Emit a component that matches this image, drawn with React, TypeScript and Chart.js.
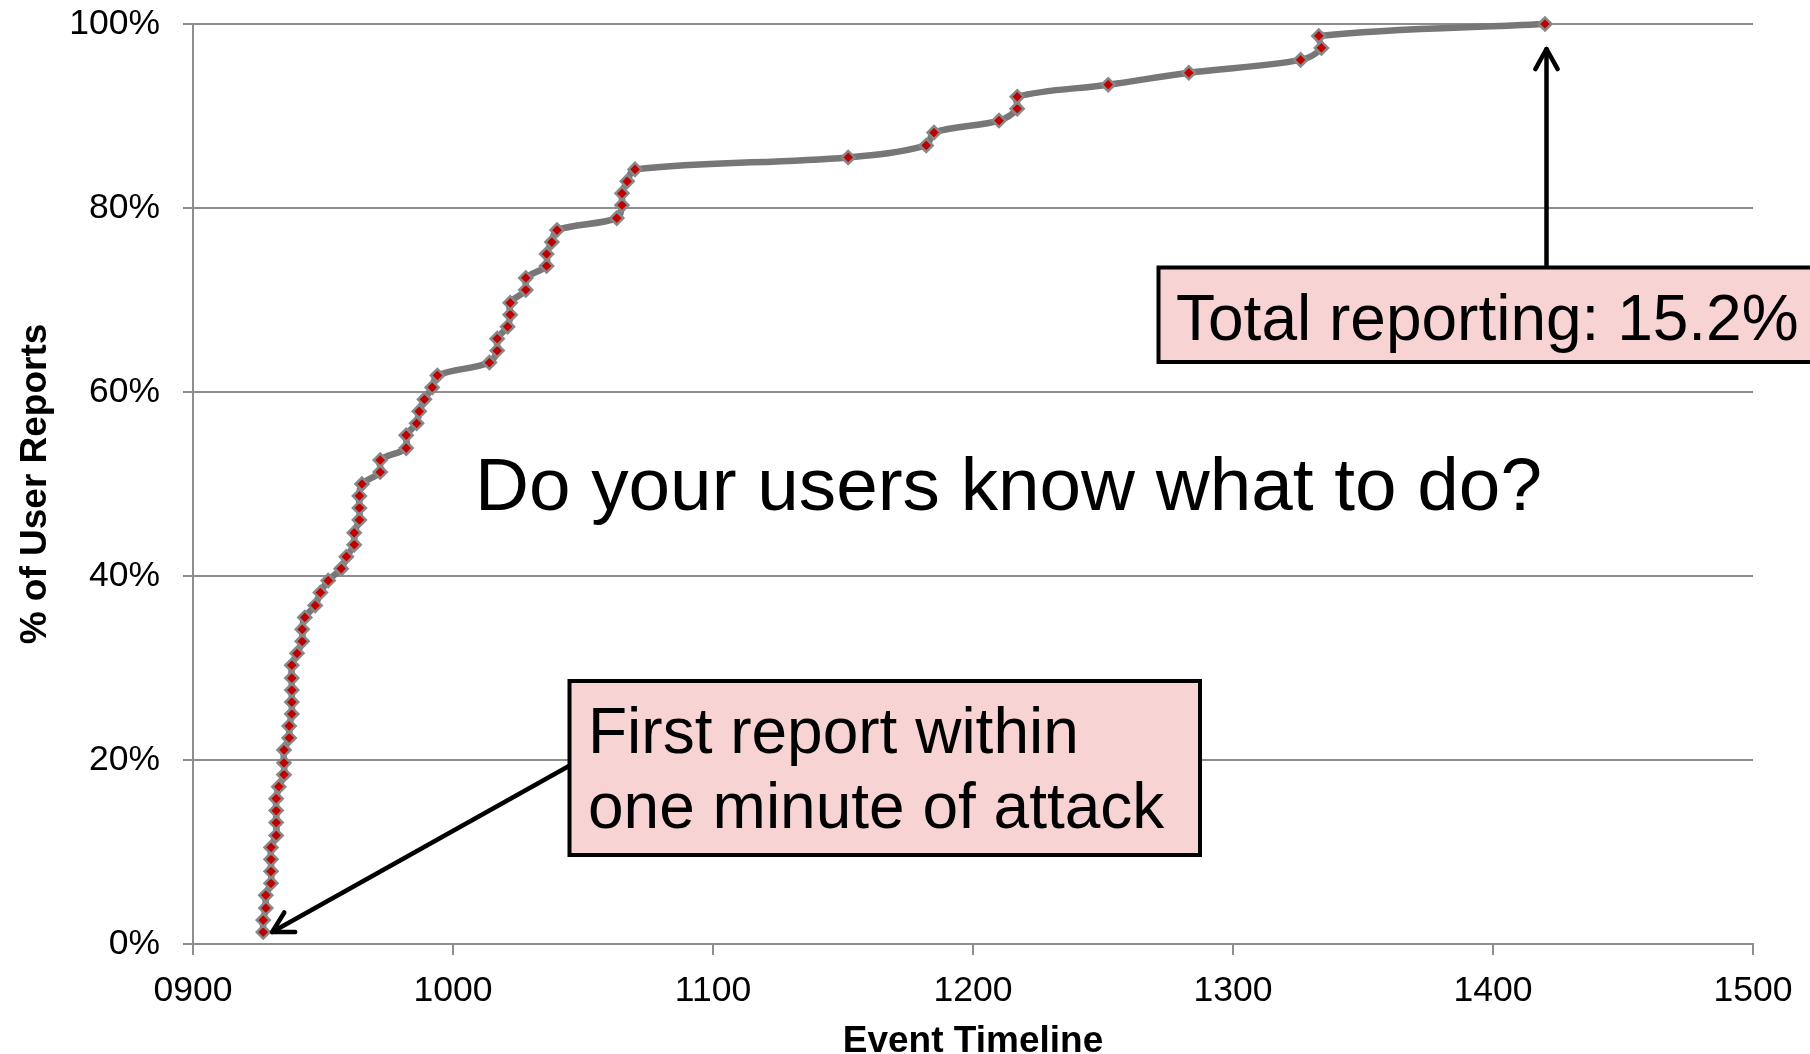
import { useEffect, useRef } from 'react';
import { Chart, registerables } from 'chart.js';

Chart.register(...registerables);

// Event time (HHMM) of each user report
const reportTimes = [
  927, 927, 928, 928, 930, 930, 930, 930, 932, 932,
  932, 932, 933, 935, 935, 935, 937, 937, 938, 938,
  938, 938, 938, 940, 942, 942, 943, 947, 949, 952,
  957, 959, 962, 962, 964, 964, 964, 965, 972, 972,
  982, 982, 986, 987, 989, 992, 994, 1014, 1017, 1017,
  1021, 1022, 1022, 1028, 1028, 1036, 1036, 1038, 1040, 1063,
  1065, 1065, 1067, 1070, 1152, 1182, 1185, 1210, 1217, 1217,
  1252, 1283, 1326, 1334, 1333, 1420,
];

// Cumulative % of user reports
const reportPercent = [
  1.3, 2.6, 3.9, 5.3, 6.6, 7.9, 9.2, 10.5, 11.8, 13.2,
  14.5, 15.8, 17.1, 18.4, 19.7, 21.1, 22.4, 23.7, 25.0, 26.3,
  27.6, 28.9, 30.3, 31.6, 32.9, 34.2, 35.5, 36.8, 38.2, 39.5,
  40.8, 42.1, 43.4, 44.7, 46.1, 47.4, 48.7, 50.0, 51.3, 52.6,
  53.9, 55.3, 56.6, 57.9, 59.2, 60.5, 61.8, 63.2, 64.5, 65.8,
  67.1, 68.4, 69.7, 71.1, 72.4, 73.7, 75.0, 76.3, 77.6, 78.9,
  80.3, 81.6, 82.9, 84.2, 85.5, 86.8, 88.2, 89.5, 90.8, 92.1,
  93.4, 94.7, 96.1, 97.4, 98.7, 100,
];

const xTickLabels = ['0900', '1000', '1100', '1200', '1300', '1400', '1500'];
const yTickLabels = ['0%', '20%', '40%', '60%', '80%', '100%'];

const X_TITLE = 'Event Timeline';
const Y_TITLE = '% of User Reports';
const CENTER_TEXT = 'Do your users know what to do?';
const BOX1_LINES = ['First report within', 'one minute of attack'];
const BOX2_TEXT = 'Total reporting: 15.2%';

const FONT = '"Liberation Sans", Arial, Helvetica, sans-serif';
const GRID = '#8e8e8e';
const BOX_FILL = '#f7d3d4';

function drawArrow(ctx: CanvasRenderingContext2D, x1: number, y1: number, x2: number, y2: number) {
  const head = 23;
  const ang = Math.PI / 6.2;
  ctx.beginPath();
  ctx.moveTo(x1, y1);
  ctx.lineTo(x2, y2);
  ctx.stroke();
  const a = Math.atan2(y1 - y2, x1 - x2);
  ctx.beginPath();
  ctx.moveTo(x2 + head * Math.cos(a + ang), y2 + head * Math.sin(a + ang));
  ctx.lineTo(x2, y2);
  ctx.lineTo(x2 + head * Math.cos(a - ang), y2 + head * Math.sin(a - ang));
  ctx.stroke();
}

const annotationPlugin = {
  id: 'slideAnnotations',
  afterDraw(chart: any) {
    const ctx: CanvasRenderingContext2D = chart.ctx;
    const xs = chart.scales.x;
    const ys = chart.scales.y;
    ctx.save();

    // Center question
    ctx.fillStyle = '#000';
    ctx.textAlign = 'left';
    ctx.textBaseline = 'alphabetic';
    ctx.font = `74.7px ${FONT}`;
    ctx.fillText(CENTER_TEXT, 475, 510);

    // Arrows
    ctx.strokeStyle = '#000';
    ctx.lineWidth = 4.5;
    ctx.lineCap = 'round';
    ctx.lineJoin = 'round';
    const fx = xs.getPixelForValue(reportTimes[0]);
    const fy = ys.getPixelForValue(reportPercent[0]);
    drawArrow(ctx, 569, 766, fx + 9, fy);
    const lx = xs.getPixelForValue(reportTimes[reportTimes.length - 1]);
    const ly = ys.getPixelForValue(reportPercent[reportPercent.length - 1]);
    drawArrow(ctx, lx + 1.5, 268, lx + 1.5, ly + 25);

    // Box 1
    ctx.lineCap = 'butt';
    ctx.lineJoin = 'miter';
    ctx.fillStyle = BOX_FILL;
    ctx.fillRect(569.5, 681, 630.5, 174);
    ctx.lineWidth = 4;
    ctx.strokeRect(569.5, 681, 630.5, 174);
    ctx.fillStyle = '#000';
    ctx.font = `64px ${FONT}`;
    ctx.fillText(BOX1_LINES[0], 588, 753);
    ctx.fillText(BOX1_LINES[1], 588, 828);

    // Box 2
    ctx.fillStyle = BOX_FILL;
    ctx.fillRect(1158.5, 267.5, 700, 94.5);
    ctx.strokeRect(1158.5, 267.5, 700, 94.5);
    ctx.fillStyle = '#000';
    ctx.fillText(BOX2_TEXT, 1176, 340);

    ctx.restore();
  },
};

export default function App() {
  const canvasRef = useRef<HTMLCanvasElement | null>(null);

  useEffect(() => {
    document.body.style.margin = '0';
    document.body.style.overflow = 'hidden';
    const canvas = canvasRef.current;
    if (!canvas) return;

    const chart = new Chart(canvas, {
      type: 'line',
      data: {
        datasets: [
          {
            data: reportTimes.map((t, i) => ({ x: t, y: reportPercent[i] })),
            borderColor: '#777777',
            borderWidth: 6.5,
            tension: 0.35,
            pointStyle: 'rectRot',
            pointRadius: 6.5,
            pointBackgroundColor: '#c00000',
            pointBorderColor: '#888888',
            pointBorderWidth: 2.5,
            clip: false as any,
            fill: false,
          },
        ],
      },
      options: {
        animation: false,
        responsive: false,
        devicePixelRatio: 1,
        events: [],
        layout: { padding: { left: 0, top: 24, right: 57, bottom: 0 } },
        plugins: {
          legend: { display: false },
          tooltip: { enabled: false },
        },
        scales: {
          x: {
            type: 'linear',
            min: 900,
            max: 1500,
            ticks: {
              stepSize: 100,
              padding: 15,
              color: '#000',
              maxRotation: 0,
              autoSkip: false,
              font: { family: FONT, size: 35.5 },
              callback: (v: any) => xTickLabels[Math.round((Number(v) - 900) / 100)] ?? '',
            },
            grid: { drawOnChartArea: false, tickLength: 11, color: GRID, lineWidth: 2 },
            border: { color: GRID, width: 2 },
            title: {
              display: true,
              text: X_TITLE,
              color: '#000',
              font: { family: FONT, size: 37, weight: 'bold', lineHeight: 0.68 },
              padding: 0,
            },
            afterFit: (s: any) => {
              s.height = 110;
              s.paddingLeft = 0;
              s.paddingRight = 0;
            },
          },
          y: {
            type: 'linear',
            min: 0,
            max: 100,
            ticks: {
              stepSize: 20,
              padding: 23,
              color: '#000',
              font: { family: FONT, size: 35.5 },
              callback: (v: any) => yTickLabels[Math.round(Number(v) / 20)] ?? '',
            },
            grid: { color: GRID, lineWidth: 2, tickLength: 10 },
            border: { color: GRID, width: 2 },
            title: {
              display: true,
              text: Y_TITLE,
              color: '#000',
              font: { family: FONT, size: 37, weight: 'bold', lineHeight: 1.2 },
              padding: { top: 14, bottom: 0 },
            },
            afterFit: (s: any) => {
              s.width = 193;
              s.paddingTop = 0;
              s.paddingBottom = 0;
            },
          },
        },
      } as any,
      plugins: [annotationPlugin],
    });

    return () => {
      chart.destroy();
    };
  }, []);

  return (
    <div style={{ width: 1810, height: 1054, background: '#fff' }}>
      <canvas ref={canvasRef} width={1810} height={1054} style={{ display: 'block' }} />
    </div>
  );
}
